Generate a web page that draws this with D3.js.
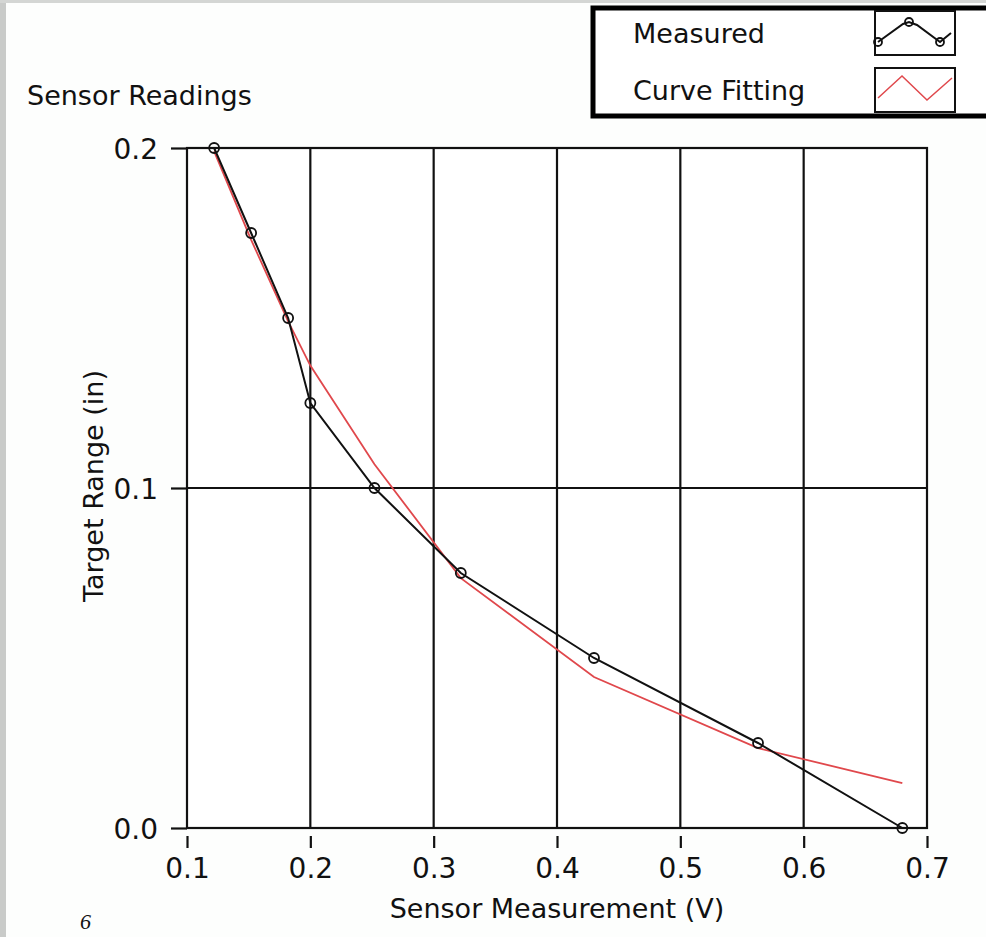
<!DOCTYPE html>
<html>
<head>
<meta charset="utf-8">
<script src="https://cdn.jsdelivr.net/npm/d3@7"></script>
<style>
  html, body { margin: 0; padding: 0; background: #fdfefd; }
  svg { display: block; }
  text { font-family: "DejaVu Sans", Verdana, sans-serif; fill: #111; }
</style>
</head>
<body>
<svg width="986" height="937"></svg>
<script>
'use strict';

/* Chart values. */
var xTicks = [0.1, 0.2, 0.3, 0.4, 0.5, 0.6, 0.7];
var yTicks = [0.0, 0.1, 0.2];
var sensorV = [0.122, 0.152, 0.182, 0.2, 0.252, 0.322, 0.43, 0.563, 0.68];
var measured = [0.2, 0.175, 0.15, 0.125, 0.1, 0.075, 0.05, 0.025, 0.0];
var fitted = [0.199, 0.173, 0.149, 0.136, 0.107, 0.0735, 0.0444, 0.0235, 0.0132];
var seriesNames = ['Measured', 'Curve Fitting'];

var svg = d3.select('svg');

/* Panel border on the left and top. */
svg.append('rect').attr('x', 0).attr('y', 0).attr('width', 6).attr('height', 937).attr('fill', '#c9cbc9');
svg.append('rect').attr('x', 0).attr('y', 0).attr('width', 986).attr('height', 3).attr('fill', '#d4d6d4');

/* Plot area. */
var plot = {left: 187, right: 927, top: 148, bottom: 828};

var x = d3.scaleLinear().domain([0.1, 0.7]).range([plot.left, plot.right]);
var y = d3.scaleLinear().domain([0, 0.2]).range([plot.bottom, plot.top]);

svg.append('rect')
  .attr('x', plot.left).attr('y', plot.top)
  .attr('width', plot.right - plot.left).attr('height', plot.bottom - plot.top)
  .attr('fill', '#ffffff');

/* Grid lines. */
svg.append('g').selectAll('line')
  .data(xTicks.slice(1, -1))
  .enter().append('line')
  .attr('x1', function (d) { return x(d); })
  .attr('x2', function (d) { return x(d); })
  .attr('y1', plot.top).attr('y2', plot.bottom)
  .attr('stroke', '#111').attr('stroke-width', 2.2);

svg.append('g').selectAll('line')
  .data(yTicks.slice(1, -1))
  .enter().append('line')
  .attr('y1', function (d) { return y(d); })
  .attr('y2', function (d) { return y(d); })
  .attr('x1', plot.left).attr('x2', plot.right)
  .attr('stroke', '#111').attr('stroke-width', 2.2);

/* Frame. */
svg.append('rect')
  .attr('x', plot.left).attr('y', plot.top)
  .attr('width', plot.right - plot.left).attr('height', plot.bottom - plot.top)
  .attr('fill', 'none').attr('stroke', '#111').attr('stroke-width', 2.2);

/* Axes. */
var fmt = d3.format('.1f');

var xAxis = svg.append('g')
  .attr('transform', 'translate(0,' + (plot.bottom + 8) + ')')
  .call(d3.axisBottom(x).tickValues(xTicks).tickFormat(fmt).tickSize(12).tickPadding(10));

var yAxis = svg.append('g')
  .attr('transform', 'translate(' + plot.left + ',0)')
  .call(d3.axisLeft(y).tickValues(yTicks).tickFormat(fmt).tickSize(16).tickPadding(13));

[xAxis, yAxis].forEach(function (a) {
  a.select('.domain').remove();
  a.selectAll('line').attr('stroke', '#111').attr('stroke-width', 2.2);
  a.selectAll('text')
    .style('font-size', '28px')
    .style('font-family', '"DejaVu Sans", Verdana, sans-serif')
    .attr('fill', '#111');
});
xAxis.selectAll('text').attr('dy', '0.72em');
yAxis.selectAll('text').attr('dy', '0.38em');

/* Titles. */
svg.append('text').attr('x', 27).attr('y', 105).style('font-size', '27px').text('Sensor Readings');

svg.append('text')
  .attr('x', (plot.left + plot.right) / 2).attr('y', 918)
  .attr('text-anchor', 'middle').style('font-size', '27px')
  .text('Sensor Measurement (V)');

svg.append('text')
  .attr('transform', 'translate(103,' + (y(0.1) - 2) + ') rotate(-90)')
  .attr('text-anchor', 'middle').style('font-size', '27px')
  .text('Target Range (in)');

/* Data lines. */
var rows = sensorV.map(function (v, i) {
  return {v: v, measured: measured[i], fitted: fitted[i]};
});

var line = d3.line().x(function (d) { return x(d[0]); }).y(function (d) { return y(d[1]); });

svg.append('path')
  .datum(rows.map(function (d) { return [d.v, d.fitted]; }))
  .attr('d', line)
  .attr('fill', 'none').attr('stroke', '#e0484c').attr('stroke-width', 1.8);

svg.append('path')
  .datum(rows.map(function (d) { return [d.v, d.measured]; }))
  .attr('d', line)
  .attr('fill', 'none').attr('stroke', '#111').attr('stroke-width', 2);

svg.append('g').selectAll('circle')
  .data(rows)
  .enter().append('circle')
  .attr('cx', function (d) { return x(d.v); })
  .attr('cy', function (d) { return y(d.measured); })
  .attr('r', 5)
  .attr('fill', 'none').attr('stroke', '#111').attr('stroke-width', 1.8);

/* Legend. */
var legend = svg.append('g');
legend.append('rect')
  .attr('x', 593).attr('y', 8).attr('width', 420).attr('height', 108)
  .attr('fill', '#ffffff').attr('stroke', '#000').attr('stroke-width', 5);

legend.selectAll('text.name')
  .data(seriesNames)
  .enter().append('text')
  .attr('class', 'name')
  .attr('x', 633)
  .attr('y', function (d, i) { return 43 + i * 57; })
  .style('font-size', '27px')
  .text(function (d) { return d; });

legend.selectAll('rect.swatch')
  .data(seriesNames)
  .enter().append('rect')
  .attr('class', 'swatch')
  .attr('x', 875).attr('y', function (d, i) { return 11 + i * 57; })
  .attr('width', 80).attr('height', 44)
  .attr('fill', '#fff').attr('stroke', '#111').attr('stroke-width', 2);

/* Swatch glyphs, relative to each box. */
var glyphMeasured = [[3, 31], [28, 13], [34, 11], [42, 14], [65, 31], [76, 22]];
var glyphFitted = [[3, 30], [27, 8], [52, 32], [77, 10]];
var glyph = d3.line();

legend.append('path')
  .attr('transform', 'translate(875,11)')
  .attr('d', glyph(glyphMeasured))
  .attr('fill', 'none').attr('stroke', '#111').attr('stroke-width', 2);

legend.selectAll('circle')
  .data([glyphMeasured[0], glyphMeasured[2], glyphMeasured[4]])
  .enter().append('circle')
  .attr('transform', 'translate(875,11)')
  .attr('cx', function (d) { return d[0]; })
  .attr('cy', function (d) { return d[1]; })
  .attr('r', 4)
  .attr('fill', 'none').attr('stroke', '#111').attr('stroke-width', 1.8);

legend.append('path')
  .attr('transform', 'translate(875,68)')
  .attr('d', glyph(glyphFitted))
  .attr('fill', 'none').attr('stroke', '#e0484c').attr('stroke-width', 1.5);

/* Stray page number below the panel. */
svg.append('text')
  .attr('x', 80).attr('y', 929)
  .style('font-family', '"Liberation Serif", "Times New Roman", serif')
  .style('font-style', 'italic')
  .style('font-size', '22px')
  .text('6');
</script>
</body>
</html>
